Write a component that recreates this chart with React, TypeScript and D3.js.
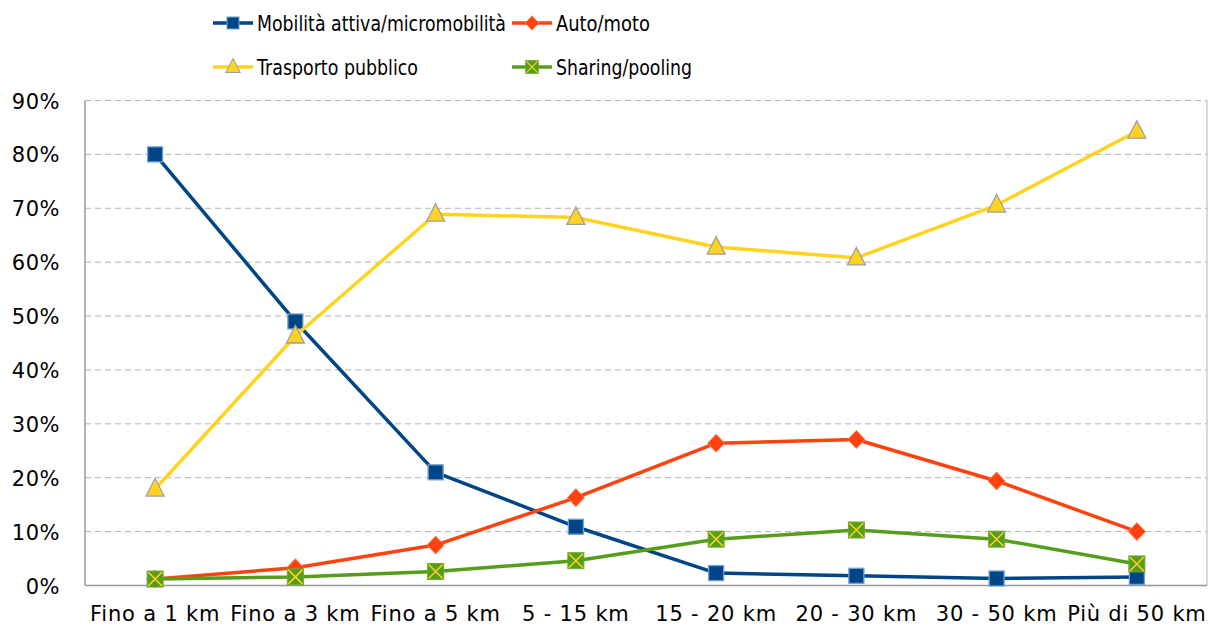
import React from "react";
import * as d3 from "d3";

const categories = ["Fino a 1 km", "Fino a 3 km", "Fino a 5 km", "5 - 15 km", "15 - 20 km", "20 - 30 km", "30 - 50 km", "Più di 50 km"];
const mobilita = [80.0, 49.0, 21.0, 10.9, 2.3, 1.8, 1.3, 1.6];
const auto = [1.2, 3.3, 7.5, 16.3, 26.4, 27.1, 19.4, 10.0];
const trasporto = [17.9, 46.3, 68.9, 68.3, 62.8, 60.8, 70.6, 84.3];
const sharing = [1.2, 1.6, 2.6, 4.6, 8.6, 10.3, 8.6, 4.0];
const yTicks = [0, 10, 20, 30, 40, 50, 60, 70, 80, 90];

const seriesNames = ["Mobilità attiva/micromobilità", "Auto/moto", "Trasporto pubblico", "Sharing/pooling"];

const W = 1214, H = 628;
const m = { left: 85, right: 1207, top: 100.5, bottom: 585.5 };
const FONT = "'Century Gothic', 'DejaVu Sans', sans-serif";

type S = { name: string; values: number[]; color: string; marker: string };
const series: S[] = [
  { name: seriesNames[0], values: mobilita, color: "#004586", marker: "square" },
  { name: seriesNames[1], values: auto, color: "#ff420e", marker: "diamond" },
  { name: seriesNames[2], values: trasporto, color: "#ffd320", marker: "triangle" },
  { name: seriesNames[3], values: sharing, color: "#579d1c", marker: "xsquare" },
];

function Marker({ type, x, y }: { type: string; x: number; y: number }) {
  if (type === "square") {
    return <rect x={x - 7.5} y={y - 7.5} width={15} height={15} fill="#004586" stroke="#729fcf" strokeWidth={1.3} />;
  }
  if (type === "diamond") {
    return <path d={`M${x},${y - 9}L${x + 8.5},${y}L${x},${y + 9}L${x - 8.5},${y}Z`} fill="#ff420e" stroke="#ff7f50" strokeWidth={1} />;
  }
  if (type === "triangle") {
    return <path d={`M${x},${y - 10.5}L${x + 9},${y + 7}L${x - 9},${y + 7}Z`} fill="#ffd320" stroke="#a0a0a0" strokeWidth={1.3} />;
  }
  return (
    <g>
      <rect x={x - 8} y={y - 8} width={16} height={16} fill="#579d1c" stroke="#6aaa30" strokeWidth={1} />
      <path d={`M${x - 7},${y - 7}L${x + 7},${y + 7}M${x + 7},${y - 7}L${x - 7},${y + 7}`} stroke="#ffd320" strokeWidth={1.5} />
    </g>
  );
}

export default function App() {
  const x = d3.scaleBand<string>().domain(categories).range([m.left, m.right]);
  const y = d3.scaleLinear().domain([0, 90]).range([m.bottom, m.top]);
  const cx = (c: string) => (x(c) as number) + x.bandwidth() / 2;
  const line = d3.line<number>().x((_, i) => cx(categories[i])).y((v) => y(v));

  const legendPos = [
    { lx: 213, ly: 23, tl: 249 },
    { lx: 512, ly: 23, tl: 94 },
    { lx: 213, ly: 67, tl: 161 },
    { lx: 512, ly: 67, tl: 136 },
  ];

  return (
    <svg width={W} height={H} style={{ position: "absolute", left: 0, top: 0, background: "#fff" }} fontFamily={FONT}>
      <rect width={W} height={H} fill="#fff" />
      {yTicks.map((t) =>
        t > 0 ? (
          <line key={"g" + t} x1={m.left} x2={m.right} y1={y(t)} y2={y(t)} stroke="#b3b3b3" strokeWidth={1} strokeDasharray="6,4" />
        ) : null
      )}
      <line x1={m.right} x2={m.right} y1={m.top} y2={m.bottom} stroke="#b3b3b3" strokeWidth={1} />
      <line x1={m.left} x2={m.left} y1={m.top} y2={m.bottom} stroke="#999" strokeWidth={1.5} />
      <line x1={m.left} x2={m.right} y1={m.bottom} y2={m.bottom} stroke="#999" strokeWidth={1.5} />
      {yTicks.map((t) => (
        <text key={"t" + t} x={60} y={y(t) + 8} textAnchor="end" fontSize={21} fill="#000" letterSpacing={0.5}>
          {t + "%"}
        </text>
      ))}
      {categories.map((c) => (
        <text key={c} x={cx(c)} y={621} textAnchor="middle" fontSize={21} fill="#000" letterSpacing={0.8}>
          {c}
        </text>
      ))}
      {series.map((s) => (
        <g key={s.name}>
          <path d={line(s.values) || ""} fill="none" stroke={s.color} strokeWidth={3.5} strokeLinejoin="round" />
          {s.values.map((v, i) => (
            <Marker key={i} type={s.marker} x={cx(categories[i])} y={y(v)} />
          ))}
        </g>
      ))}
      {series.map((s, i) => {
        const p = legendPos[i];
        return (
          <g key={"l" + i}>
            <line x1={p.lx} x2={p.lx + 40} y1={p.ly} y2={p.ly} stroke={s.color} strokeWidth={3.5} />
            <g transform={`translate(${p.lx + 20},${p.ly}) scale(0.8) translate(${-(p.lx + 20)},${-p.ly})`}>
              <Marker type={s.marker} x={p.lx + 20} y={p.ly} />
            </g>
            <text x={p.lx + 44} y={p.ly + 8} fontSize={21} fill="#000" textLength={p.tl} lengthAdjust="spacingAndGlyphs">
              {s.name}
            </text>
          </g>
        );
      })}
    </svg>
  );
}
